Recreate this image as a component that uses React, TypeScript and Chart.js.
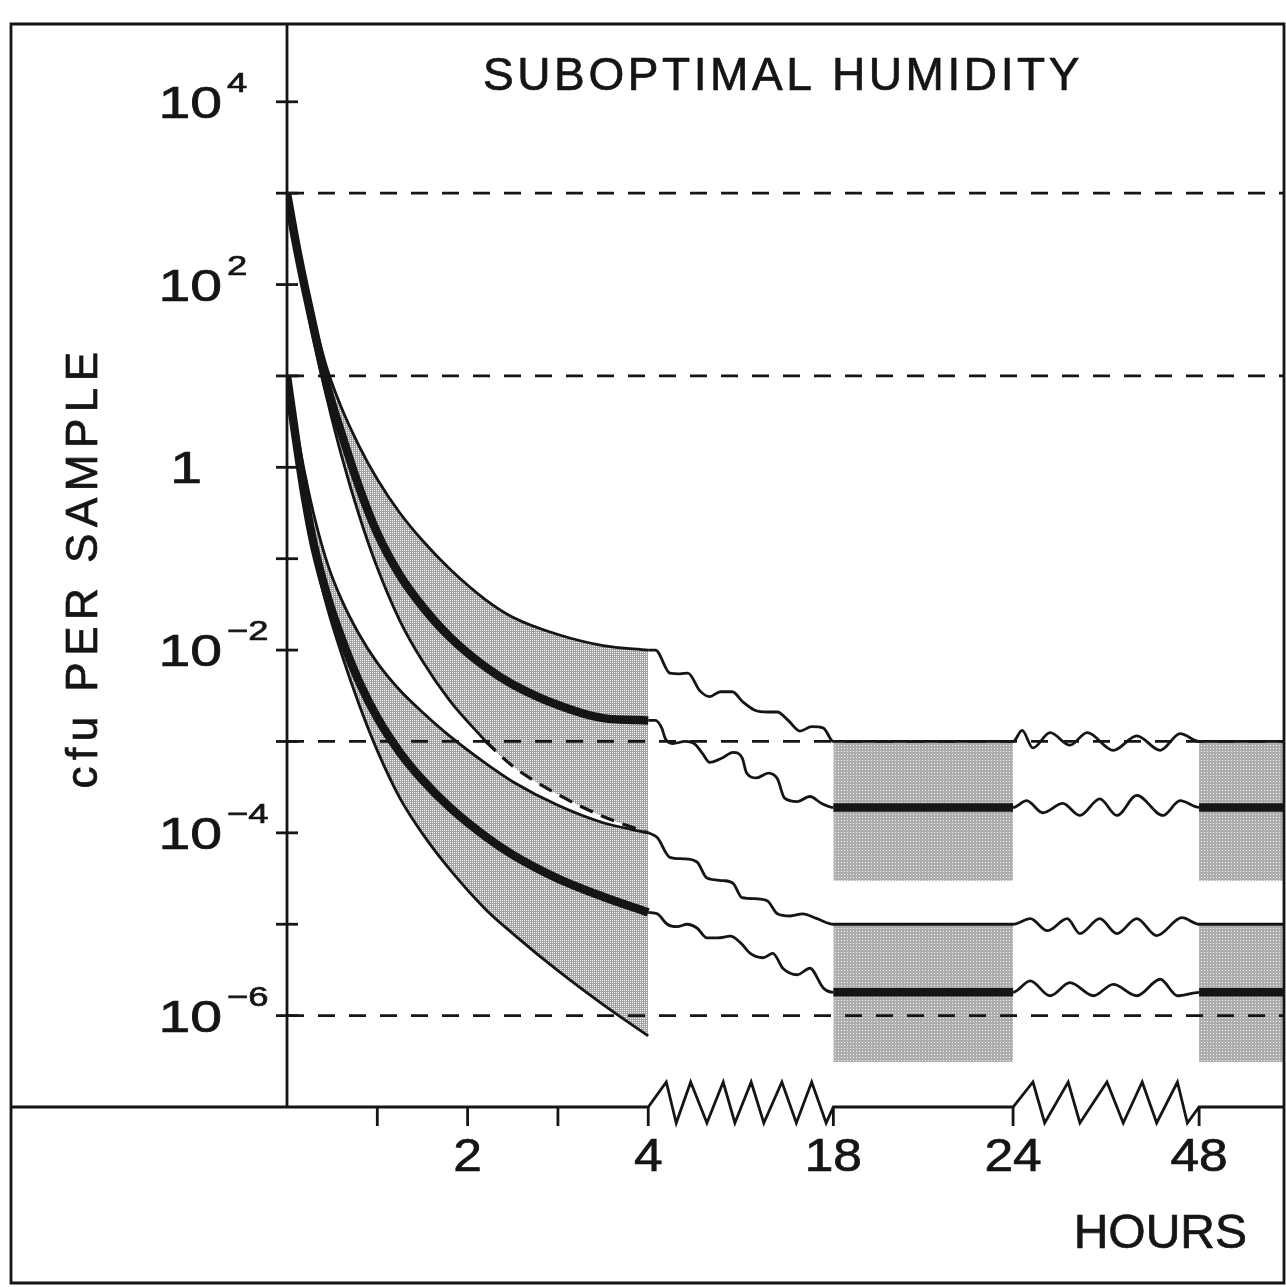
import React, { useEffect, useRef } from 'react';
import { Chart, registerables } from 'chart.js';

Chart.register(...registerables);

// ---------- data (x in axis units: hours 0–4 linear, then broken segments) ----------
const X_GRID = [0, 0.1, 0.2, 0.3, 0.45, 0.6, 0.8, 1.0, 1.25, 1.5, 1.8, 2.2, 2.5, 3.0, 3.5, 4.0];

const UPPER_HIGH = [1000, 309, 105, 39.8, 11.5, 4.57, 1.7, 0.741, 0.316, 0.158, 0.0776, 0.0355, 0.0229, 0.0148, 0.0112, 0.01];
const UPPER_MEAN = [1000, 280, 91, 32, 7.4, 2.4, 0.6, 0.19, 0.066, 0.03, 0.014, 0.0065, 0.0042, 0.0025, 0.0018, 0.0017];
const UPPER_LOW = [1000, 251, 72.4, 23.4, 5.25, 1.38, 0.295, 0.0794, 0.0209, 0.00759, 0.00282, 0.001, 5.37e-4, 2.63e-4, 1.51e-4, 1e-4];

const LOWER_HIGH = [10, 2.75, 0.832, 0.295, 0.0871, 0.0363, 0.0148, 0.00724, 0.00363, 0.00209, 0.00115, 5.75e-4, 3.63e-4, 2.0e-4, 1.29e-4, 1e-4];
const LOWER_MEAN = [10, 2.0, 0.457, 0.138, 0.038, 0.0138, 0.00447, 0.00182, 7.59e-4, 3.8e-4, 1.91e-4, 9.1e-5, 5.75e-5, 3.16e-5, 2.0e-5, 1.35e-5];
const LOWER_LOW = [10, 1.9, 0.398, 0.112, 0.0282, 0.00933, 0.00251, 7.94e-4, 2.4e-4, 9.8e-5, 4.0e-5, 1.45e-5, 7.9e-6, 3.1e-6, 1.32e-6, 6.0e-7];

const DASH_FROM = 2.2; // upper-low curve is dashed after this point

const TRACE_A: [number, number][] = [
  [4.0, 0.01], [4.08, 0.01], [4.24, 0.0056], [4.35, 0.0055], [4.44, 0.0056], [4.57, 0.0036], [4.68, 0.0031],
  [4.8, 0.0035], [4.93, 0.0035], [5.05, 0.0027], [5.18, 0.0022], [5.32, 0.0021], [5.43, 0.0021], [5.55, 0.0017],
  [5.68, 0.0013], [5.81, 0.00145], [5.94, 0.0014], [6.05, 0.001], [8.04, 0.001], [8.14, 0.00132], [8.26, 0.00085],
  [8.45, 0.00125], [8.67, 0.00091], [8.86, 0.00125], [9.15, 0.0008], [9.41, 0.00115], [9.67, 0.0008],
  [9.89, 0.00122], [10.1, 0.001], [11.04, 0.001],
];
const TRACE_B: [number, number][] = [
  [4.0, 0.0017], [4.08, 0.0017], [4.15, 0.0014], [4.19, 0.00107], [4.27, 9.5e-4], [4.41, 1.0e-3], [4.52, 9.3e-4],
  [4.6, 7.4e-4], [4.68, 5.9e-4], [4.82, 6.6e-4], [4.94, 7.6e-4], [5.04, 6.6e-4], [5.09, 4.5e-4], [5.2, 4.0e-4],
  [5.33, 4.5e-4], [5.43, 3.9e-4], [5.51, 2.4e-4], [5.65, 2.2e-4], [5.79, 2.5e-4], [5.92, 2.1e-4], [6.05, 1.9e-4],
  [8.04, 1.9e-4], [8.19, 2.25e-4], [8.37, 1.66e-4], [8.59, 2.1e-4], [8.78, 1.55e-4], [9.0, 2.35e-4],
  [9.19, 1.55e-4], [9.41, 2.57e-4], [9.7, 1.55e-4], [9.89, 2.25e-4], [10.1, 1.9e-4], [11.04, 1.9e-4],
];
const TRACE_C: [number, number][] = [
  [4.0, 1e-4], [4.1, 8.9e-5], [4.24, 5.4e-5], [4.39, 5.2e-5], [4.54, 4.8e-5], [4.65, 3.2e-5], [4.83, 3.0e-5],
  [4.94, 2.8e-5], [5.04, 1.95e-5], [5.2, 1.9e-5], [5.32, 1.8e-5], [5.43, 1.3e-5], [5.57, 1.23e-5], [5.71, 1.3e-5],
  [5.87, 1.15e-5], [6.05, 1e-5], [8.04, 1e-5], [8.23, 1.15e-5], [8.42, 8.5e-6], [8.64, 1.15e-5], [8.78, 7.9e-6],
  [9.0, 1.15e-5], [9.19, 7.9e-6], [9.41, 1.15e-5], [9.63, 7.5e-6], [9.91, 1.18e-5], [10.1, 1e-5], [11.04, 1e-5],
];
const TRACE_D: [number, number][] = [
  [4.0, 1.35e-5], [4.1, 1.3e-5], [4.21, 1.0e-5], [4.32, 9.4e-6], [4.43, 1.0e-5], [4.54, 9.1e-6], [4.65, 7.1e-6],
  [4.77, 7.1e-6], [4.91, 7.4e-6], [5.02, 6.3e-6], [5.13, 4.8e-6], [5.27, 4.3e-6], [5.38, 4.8e-6], [5.49, 3.3e-6],
  [5.65, 2.8e-6], [5.79, 3.3e-6], [5.94, 2.0e-6], [6.05, 1.8e-6], [8.04, 1.8e-6], [8.23, 2.4e-6], [8.45, 1.65e-6],
  [8.67, 2.3e-6], [8.93, 1.65e-6], [9.15, 2.2e-6], [9.41, 1.65e-6], [9.67, 2.5e-6], [9.86, 1.65e-6],
  [10.1, 1.8e-6], [11.04, 1.8e-6],
];

const RECT_SPANS: [number, number][] = [[6.05, 8.04], [10.1, 11.04]];
const RECT_BANDS: [number, number][] = [[1e-3, 3e-5], [1e-5, 3.1e-7]];
const REF_LEVELS = [1e3, 10, 1e-3, 1e-6];

const Y_TICK_EXPONENTS = [4, 3, 2, 1, 0, -1, -2, -3, -4, -5, -6];
const Y_LABEL_EXPONENTS = [4, 2, 0, -2, -4, -6];
const X_TICKS = [1, 2, 3, 4, 6.05, 8.04, 10.1];
const X_LABELS: [number, string][] = [[2, '2'], [4, '4'], [6.05, '18'], [8.04, '24'], [10.1, '48']];
const ZIG_1 = [4.0, 4.2, 4.31, 4.47, 4.65, 4.83, 4.96, 5.14, 5.28, 5.48, 5.64, 5.81, 5.97, 6.05];
const ZIG_2 = [8.04, 8.26, 8.39, 8.65, 8.78, 9.08, 9.26, 9.47, 9.63, 9.86, 9.97, 10.1];

const TITLE = 'SUBOPTIMAL HUMIDITY';
const Y_TITLE = 'cfu PER SAMPLE';
const X_TITLE = 'HOURS';

const X_MIN = 0;
const X_MAX = 11.04;
const Y_MIN = 1e-7;
const Y_MAX = 7.1e4;

// ---------- styles ----------
const INK = '#151515';
const FONT = '"Liberation Sans", Arial, Helvetica, sans-serif';
const THIN = 2.8;
const THICK = 8.5;

function makePattern(size: number, base: string, light: [number, number][], lightColor: string) {
  const c = document.createElement('canvas');
  c.width = size;
  c.height = size;
  const g = c.getContext('2d')!;
  g.fillStyle = base;
  g.fillRect(0, 0, size, size);
  g.fillStyle = lightColor;
  for (const [x, y] of light) g.fillRect(x, y, 1, 1);
  return g.createPattern(c, 'repeat')!;
}

const pts = (ys: number[]) => X_GRID.map((x, i) => ({ x, y: ys[i] }));
const pairs = (arr: [number, number][]) => arr.map(([x, y]) => ({ x, y }));

function drawText(ctx: CanvasRenderingContext2D, text: string, x: number, y: number, align: CanvasTextAlign, sx = 1) {
  ctx.save();
  ctx.translate(x, y);
  ctx.scale(sx, 1);
  ctx.textAlign = align;
  ctx.lineWidth = 0.7;
  ctx.fillText(text, 0, 0);
  ctx.strokeText(text, 0, 0);
  ctx.restore();
}

const paperAxes = {
  id: 'paperAxes',
  afterDraw(chart: any) {
    const ctx: CanvasRenderingContext2D = chart.ctx;
    const xs = chart.scales.x;
    const ys = chart.scales.y;
    const { left, right, top, bottom } = chart.chartArea;
    ctx.save();
    ctx.strokeStyle = INK;
    ctx.fillStyle = INK;
    ctx.lineWidth = THIN;
    ctx.lineCap = 'butt';
    ctx.lineJoin = 'miter';

    // frame
    ctx.beginPath();
    ctx.rect(11, top, right - 11, 1283 - top);
    ctx.stroke();

    // y axis + ticks
    ctx.beginPath();
    ctx.moveTo(left, top);
    ctx.lineTo(left, bottom);
    ctx.stroke();
    for (const e of Y_TICK_EXPONENTS) {
      const y = ys.getPixelForValue(Math.pow(10, e));
      ctx.beginPath();
      ctx.moveTo(left - 11, y);
      ctx.lineTo(left + 11, y);
      ctx.stroke();
    }

    // x axis with zigzag breaks
    const zig = (arr: number[]) => {
      arr.forEach((v, i) => {
        const off = i === 0 || i === arr.length - 1 ? 0 : i % 2 === 1 ? -25 : 16;
        ctx.lineTo(xs.getPixelForValue(v), bottom + off);
      });
    };
    ctx.beginPath();
    ctx.moveTo(11, bottom);
    ctx.lineTo(xs.getPixelForValue(ZIG_1[0]), bottom);
    zig(ZIG_1);
    ctx.lineTo(xs.getPixelForValue(ZIG_2[0]), bottom);
    zig(ZIG_2);
    ctx.lineTo(right, bottom);
    ctx.stroke();
    for (const t of X_TICKS) {
      const x = xs.getPixelForValue(t);
      ctx.beginPath();
      ctx.moveTo(x, bottom);
      ctx.lineTo(x, bottom + 19);
      ctx.stroke();
    }

    // y labels
    ctx.textBaseline = 'alphabetic';
    for (const e of Y_LABEL_EXPONENTS) {
      const y = ys.getPixelForValue(Math.pow(10, e));
      ctx.font = `44px ${FONT}`;
      if (e === 0) {
        drawText(ctx, '1', 202, y + 16, 'right', 1.3);
      } else {
        drawText(ctx, '10', 222, y + 16, 'right', 1.3);
        ctx.font = `28px ${FONT}`;
        drawText(ctx, e < 0 ? '\u2212' + String(-e) : String(e), 227, y - 10, 'left', 1.3);
      }
    }

    // x labels
    ctx.font = `46px ${FONT}`;
    for (const [v, label] of X_LABELS) {
      drawText(ctx, label, xs.getPixelForValue(v), 1171, 'center', 1.12);
    }

    // axis titles
    ctx.font = `48px ${FONT}`;
    drawText(ctx, X_TITLE, 1247, 1248, 'right');

    ctx.save();
    ctx.translate(97, 567);
    ctx.rotate(-Math.PI / 2);
    ctx.font = `44px ${FONT}`;
    (ctx as any).letterSpacing = '6.5px';
    drawText(ctx, Y_TITLE, 0, 0, 'center');
    ctx.restore();

    // title
    ctx.save();
    ctx.font = `46px ${FONT}`;
    (ctx as any).letterSpacing = '3.6px';
    drawText(ctx, TITLE, 783, 90, 'center');
    ctx.restore();

    ctx.restore();
  },
};

export default function App() {
  const ref = useRef<HTMLCanvasElement>(null);

  useEffect(() => {
    const canvas = ref.current;
    if (!canvas) return;

    const bandFill = makePattern(4, '#a2a2a2', [[0, 0], [2, 0], [0, 2], [2, 2]], '#ffffff');
    const rectFill = makePattern(3, '#adadad', [[1, 1]], '#f4f4f4');

    const curve = (data: any[], width: number, order: number, extra: any = {}) => ({
      data,
      borderColor: INK,
      borderWidth: width,
      pointRadius: 0,
      cubicInterpolationMode: 'monotone',
      fill: false,
      order,
      ...extra,
    });

    const flatThick = (ctx: any) =>
      ctx.p0.parsed.y === ctx.p1.parsed.y && ctx.p0.parsed.x >= 6 ? THICK : undefined;

    const upperLow = pts(UPPER_LOW);

    const datasets: any[] = [
      // 0..2 upper group (2 = fill boundary only)
      curve(pts(UPPER_HIGH), THIN, 1, { fill: { target: 2 }, backgroundColor: bandFill }),
      curve(pts(UPPER_MEAN), THICK, 0),
      curve(upperLow, 0, 4),
      // 3..5 lower group
      curve(pts(LOWER_HIGH), THIN, 1, { fill: { target: 5 }, backgroundColor: bandFill }),
      curve(pts(LOWER_MEAN), THICK, 0),
      curve(pts(LOWER_LOW), THIN, 1),
      // upper-low drawn solid, then dashed
      curve(upperLow.filter((p) => p.x <= DASH_FROM), THIN, 1),
      curve(upperLow.filter((p) => p.x >= DASH_FROM), 3.2, 1, { borderDash: [14, 9] }),
      // later traces
      curve(pairs(TRACE_A), THIN, 1),
      curve(pairs(TRACE_B), THIN, 0, { segment: { borderWidth: flatThick } }),
      curve(pairs(TRACE_C), THIN, 1),
      curve(pairs(TRACE_D), THIN, 0, { segment: { borderWidth: flatThick } }),
    ];

    // dashed reference levels
    for (const lvl of REF_LEVELS) {
      datasets.push({
        data: [{ x: X_MIN, y: lvl }, { x: X_MAX, y: lvl }],
        borderColor: INK,
        borderWidth: THIN,
        borderDash: [17, 14],
        pointRadius: 0,
        fill: false,
        order: 2,
      });
    }

    // shaded rectangles (top fills down to bottom)
    for (const [x0, x1] of RECT_SPANS) {
      for (const [hi, lo] of RECT_BANDS) {
        datasets.push({
          data: [{ x: x0, y: hi }, { x: x1, y: hi }],
          borderWidth: 0,
          pointRadius: 0,
          backgroundColor: rectFill,
          fill: '+1',
          order: 3,
        });
        datasets.push({
          data: [{ x: x0, y: lo }, { x: x1, y: lo }],
          borderWidth: 0,
          pointRadius: 0,
          fill: false,
          order: 3,
        });
      }
    }

    const chart = new Chart(canvas, {
      type: 'line',
      data: { datasets },
      options: {
        responsive: false,
        animation: false,
        events: [],
        layout: { padding: { left: 287, top: 24, right: 2, bottom: 180 } },
        scales: {
          x: { type: 'linear', min: X_MIN, max: X_MAX, display: false },
          y: { type: 'logarithmic', min: Y_MIN, max: Y_MAX, display: false },
        },
        plugins: {
          legend: { display: false },
          tooltip: { enabled: false },
          filler: { drawTime: 'beforeDatasetsDraw' } as any,
        },
      } as any,
      plugins: [paperAxes],
    });

    return () => chart.destroy();
  }, []);

  return (
    <div style={{ position: 'absolute', left: 0, top: 0, width: 1286, height: 1287, background: '#ffffff' }}>
      <canvas ref={ref} width={1286} height={1287} style={{ width: 1286, height: 1287, display: 'block' }} />
    </div>
  );
}
